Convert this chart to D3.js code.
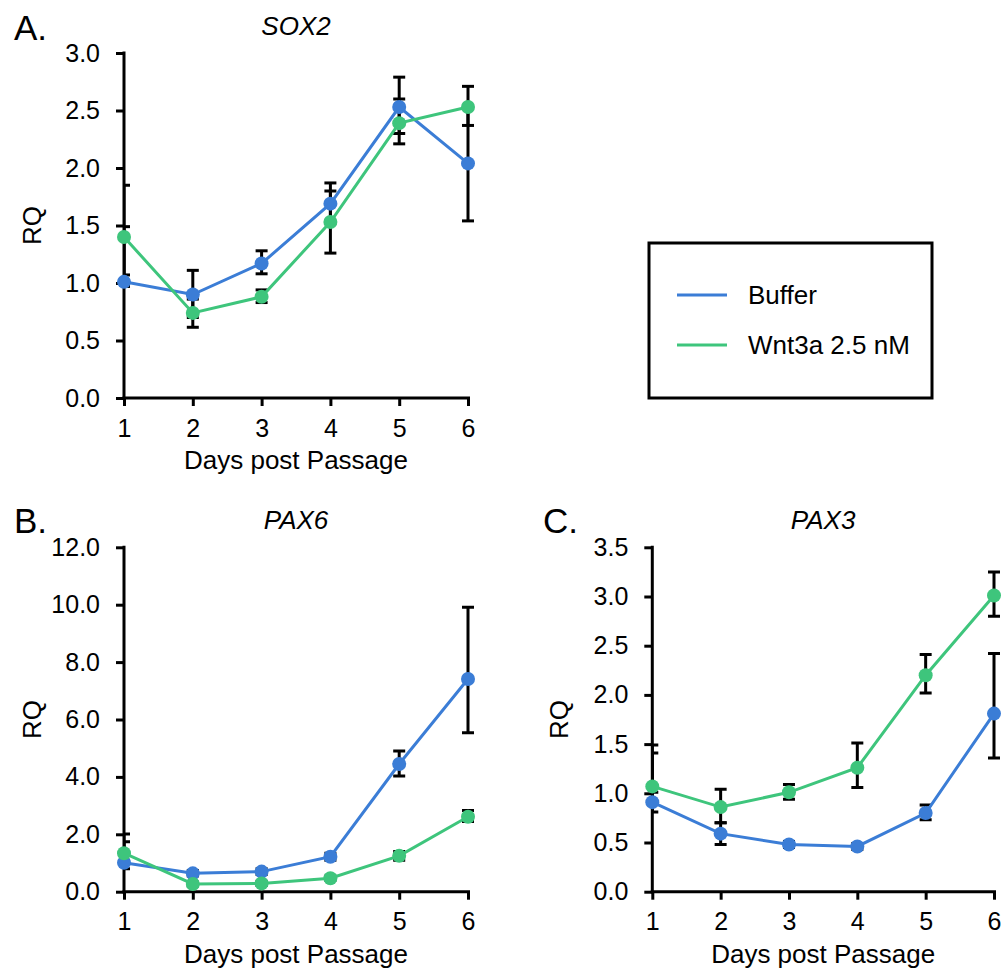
<!DOCTYPE html>
<html>
<head>
<meta charset="utf-8">
<script src="https://cdn.jsdelivr.net/npm/d3@7"></script>
<style>
  html, body { margin: 0; padding: 0; background: #fff; }
  svg { display: block; font-family: "Liberation Sans", Arial, sans-serif; }
</style>
</head>
<body>
<svg id="chart" width="1004" height="973"></svg>
<script>
// ---------- data ----------
const days = [1, 2, 3, 4, 5, 6];
const seriesNames = ["Buffer", "Wnt3a 2.5 nM"];
const seriesColors = ["#3b7dd6", "#3ec57c"];

// SOX2
const sox2Buffer   = [1.01, 0.90, 1.17, 1.69, 2.53, 2.04];
const sox2BufferLo = [0.97, 0.70, 1.08, 1.52, 2.21, 1.54];
const sox2BufferHi = [1.49, 1.11, 1.28, 1.87, 2.79, 2.54];
const sox2Wnt      = [1.40, 0.74, 0.88, 1.53, 2.39, 2.53];
const sox2WntLo    = [1.07, 0.615, 0.83, 1.26, 2.30, 2.37];
const sox2WntHi    = [1.85, 0.86, 0.94, 1.80, 2.60, 2.71];
const sox2Ticks    = [0, 0.5, 1, 1.5, 2, 2.5, 3];

// PAX6
const pax6Buffer   = [1.01, 0.64, 0.70, 1.22, 4.45, 7.41];
const pax6BufferLo = [0.80, 0.55, 0.60, 1.10, 4.03, 5.54];
const pax6BufferHi = [2.01, 0.74, 0.80, 1.34, 4.90, 9.91];
const pax6Wnt      = [1.34, 0.27, 0.29, 0.47, 1.25, 2.61];
const pax6WntLo    = [1.10, 0.20, 0.22, 0.40, 1.10, 2.45];
const pax6WntHi    = [1.74, 0.34, 0.36, 0.55, 1.40, 2.83];
const pax6Ticks    = [0, 2, 4, 6, 8, 10, 12];

// PAX3
const pax3Buffer   = [0.91, 0.59, 0.48, 0.46, 0.80, 1.81];
const pax3BufferLo = [0.81, 0.48, 0.45, 0.43, 0.73, 1.36];
const pax3BufferHi = [1.49, 0.70, 0.51, 0.49, 0.88, 2.42];
const pax3Wnt      = [1.07, 0.86, 1.01, 1.26, 2.20, 3.01];
const pax3WntLo    = [1.01, 0.70, 0.94, 1.06, 2.02, 2.80];
const pax3WntHi    = [1.41, 1.04, 1.09, 1.51, 2.41, 3.25];
const pax3Ticks    = [0, 0.5, 1, 1.5, 2, 2.5, 3, 3.5];

const xLabel = "Days post Passage";
const yLabel = "RQ";

// ---------- drawing ----------
const svg = d3.select("#chart");

const panels = [
  { letter: "A.", title: "SOX2", x0: 124, x1: 468, yTop: 53, yBot: 398, max: 3, ticks: sox2Ticks,
    lx: 14, ly: 40, rqx: 32,
    series: [[sox2Buffer, sox2BufferLo, sox2BufferHi], [sox2Wnt, sox2WntLo, sox2WntHi]] },
  { letter: "B.", title: "PAX6", x0: 124, x1: 468, yTop: 547.3, yBot: 891.7, max: 12, ticks: pax6Ticks,
    lx: 14, ly: 533, rqx: 32,
    series: [[pax6Buffer, pax6BufferLo, pax6BufferHi], [pax6Wnt, pax6WntLo, pax6WntHi]] },
  { letter: "C.", title: "PAX3", x0: 652.3, x1: 994, yTop: 547.3, yBot: 891.7, max: 3.5, ticks: pax3Ticks,
    lx: 543, ly: 533, rqx: 559,
    series: [[pax3Buffer, pax3BufferLo, pax3BufferHi], [pax3Wnt, pax3WntLo, pax3WntHi]] }
];

panels.forEach((p, pi) => {
  const x = d3.scaleLinear().domain([1, 6]).range([p.x0, p.x1]);
  const y = d3.scaleLinear().domain([0, p.max]).range([p.yBot, p.yTop]);
  const g = svg.append("g");

  // panel letter
  g.append("text").attr("x", p.lx).attr("y", p.ly)
    .attr("font-size", 35).attr("fill", "#000").text(p.letter);

  // title
  g.append("text").attr("x", (p.x0 + p.x1) / 2).attr("y", p.yTop - 18)
    .attr("text-anchor", "middle").attr("font-size", 26).attr("font-style", "italic")
    .text(p.title);

  // axes
  const yAxis = d3.axisLeft(y).tickValues(p.ticks).tickFormat(d3.format(".1f"))
    .tickSize(8).tickSizeOuter(0).tickPadding(16);
  const xAxis = d3.axisBottom(x).tickValues(days).tickFormat(d3.format("d"))
    .tickSize(8).tickSizeOuter(0).tickPadding(13);

  const ya = g.append("g").attr("transform", `translate(${p.x0},0)`).call(yAxis);
  const xa = g.append("g").attr("transform", `translate(0,${p.yBot})`).call(xAxis);
  [ya, xa].forEach(a => {
    a.select(".domain").attr("stroke", "#000").attr("stroke-width", 3);
    a.selectAll(".tick line").attr("stroke", "#000").attr("stroke-width", 3);
    a.selectAll(".tick text").attr("font-size", 25).attr("fill", "#000")
      .attr("font-family", "Liberation Sans, Arial, sans-serif");
  });
  xa.select(".domain").attr("d", `M${p.x0 - 1.5},0H${p.x1 + 2}`);
  ya.select(".domain").attr("d", `M0,${p.yBot + 1.5}V${p.yTop - 1.5}`);

  // axis labels
  g.append("text").attr("x", (p.x0 + p.x1) / 2).attr("y", p.yBot + 71)
    .attr("text-anchor", "middle").attr("font-size", 26).text(xLabel);
  g.append("text")
    .attr("transform", `translate(${p.rqx},${(p.yTop + p.yBot) / 2}) rotate(-90)`)
    .attr("text-anchor", "middle").attr("dominant-baseline", "central")
    .attr("font-size", 26).text(yLabel);

  // clip for error bars (clipped at the y axis)
  const clipId = "clip" + pi;
  svg.append("clipPath").attr("id", clipId).append("rect")
    .attr("x", p.x0).attr("y", p.yTop - 30).attr("width", p.x1 - p.x0 + 30)
    .attr("height", p.yBot - p.yTop + 30);

  const eb = g.append("g").attr("clip-path", `url(#${clipId})`);
  p.series.forEach(([vals, lo, hi]) => {
    days.forEach((d, i) => {
      const cx = x(d);
      eb.append("line").attr("x1", cx).attr("x2", cx)
        .attr("y1", y(lo[i])).attr("y2", y(hi[i]))
        .attr("stroke", "#000").attr("stroke-width", 3);
      [lo[i], hi[i]].forEach(v => {
        eb.append("line").attr("x1", cx - 6).attr("x2", cx + 6)
          .attr("y1", y(v)).attr("y2", y(v))
          .attr("stroke", "#000").attr("stroke-width", 3);
      });
    });
  });

  const line = d3.line().x((v, i) => x(days[i])).y(v => y(v));
  p.series.forEach(([vals], si) => {
    g.append("path").datum(vals).attr("d", line)
      .attr("fill", "none").attr("stroke", seriesColors[si]).attr("stroke-width", 3);
    g.selectAll(null).data(vals).enter().append("circle")
      .attr("cx", (v, i) => x(days[i])).attr("cy", v => y(v)).attr("r", 7)
      .attr("fill", seriesColors[si]);
  });
});

// legend
const lg = svg.append("g");
lg.append("rect").attr("x", 649).attr("y", 243).attr("width", 283).attr("height", 155)
  .attr("fill", "#fff").attr("stroke", "#000").attr("stroke-width", 3);
seriesNames.forEach((name, i) => {
  const yy = 295 + i * 50;
  lg.append("line").attr("x1", 677).attr("x2", 727).attr("y1", yy).attr("y2", yy)
    .attr("stroke", seriesColors[i]).attr("stroke-width", 3);
  lg.append("text").attr("x", 748).attr("y", yy).attr("dominant-baseline", "central")
    .attr("font-size", 26).text(name);
});
</script>
</body>
</html>
